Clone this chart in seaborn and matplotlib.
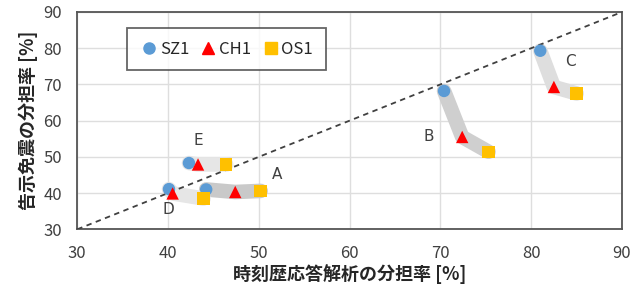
import numpy as np
import pandas as pd
import matplotlib
matplotlib.use("Agg")
import matplotlib.pyplot as plt
import seaborn as sns
from matplotlib.lines import Line2D

# --- data ---
groups = ["A", "B", "C", "D", "E"]
series = ["SZ1", "CH1", "OS1"]
sz1_x = [44.2, 70.4, 81.0, 40.1, 42.3]
sz1_y = [41.0, 68.2, 79.3, 41.1, 48.3]
ch1_x = [47.4, 72.4, 82.5, 40.5, 43.3]
ch1_y = [40.3, 55.5, 69.3, 39.9, 47.9]
os1_x = [50.2, 75.3, 85.0, 43.9, 46.4]
os1_y = [40.6, 51.4, 67.5, 38.5, 47.9]
# where each group letter sits (data coords)
label_x = [52.0, 68.7, 84.3, 40.0, 43.3]
label_y = [45.0, 55.7, 76.2, 35.5, 54.6]
band_colors = ["#c9c9c9", "#cfcfcf", "#dedede", "#e6e6e6", "#e6e6e6"]

colors = {"SZ1": "#5b9bd5", "CH1": "#ff0000", "OS1": "#ffc000"}
markers = {"SZ1": "o", "CH1": "^", "OS1": "s"}

rows = []
for s, xs, ys in zip(series, [sz1_x, ch1_x, os1_x], [sz1_y, ch1_y, os1_y]):
    for g, x, y in zip(groups, xs, ys):
        rows.append({"group": g, "series": s, "x": x, "y": y})
df = pd.DataFrame(rows)

sns.set_style("white")
plt.rcParams["font.family"] = ["Noto Sans CJK JP", "DejaVu Sans"]

fig = plt.figure(figsize=(6.43, 2.89), dpi=100)
ax = fig.add_axes([0.1202, 0.2066, 0.8471, 0.7519])

# gray bands joining the three points of each case
for g, c in zip(groups, band_colors):
    d = df[df.group == g].set_index("series").loc[series]
    ax.plot(d.x, d.y, color=c, lw=10.5, solid_capstyle="round",
            solid_joinstyle="round", zorder=2)

# 1:1 line
ax.plot([30, 90], [30, 90], color="#404040", ls=(0, (3, 2.5)), lw=1.3, zorder=3)

sns.scatterplot(data=df, x="x", y="y", hue="series", style="series",
                palette=colors, markers=markers, s=80, linewidth=0,
                hue_order=series, style_order=series, legend=False,
                ax=ax, zorder=4)

for g, lx, ly in zip(groups, label_x, label_y):
    ax.text(lx, ly, g, ha="center", va="center", fontsize=11,
            color="#404040", family=["DejaVu Sans"])

ax.set_xlim(30, 90)
ax.set_ylim(30, 90)
ax.set_xticks(np.arange(30, 91, 10))
ax.set_yticks(np.arange(30, 91, 10))
ax.grid(True, color="#dedede", lw=1)
ax.set_axisbelow(True)
for sp in ax.spines.values():
    sp.set_color("#555555")
    sp.set_linewidth(1.3)
ax.tick_params(axis="both", direction="out", length=5, width=1.2,
               color="#555555", labelsize=12, labelcolor="#404040", pad=6)

ax.set_xlabel("時刻歴応答解析の分担率 [%]", fontsize=13, fontweight="bold",
              color="#262626", labelpad=2)
ax.set_ylabel("告示免震の分担率 [%]", fontsize=13, fontweight="bold",
              color="#262626", labelpad=4)

handles = [Line2D([], [], ls="none", marker=markers[s], color=colors[s],
                  markersize=8, label=s) for s in series]
leg = ax.legend(handles=handles, ncol=3, loc="upper left",
                bbox_to_anchor=(0.092, 0.925), borderaxespad=0,
                frameon=True, fancybox=False, fontsize=12,
                handletextpad=0.1, columnspacing=0.6, borderpad=0.75,
                handlelength=1.1)
leg.get_frame().set_edgecolor("#404040")
leg.get_frame().set_linewidth(1.3)

fig.savefig("out.png", dpi=100)
